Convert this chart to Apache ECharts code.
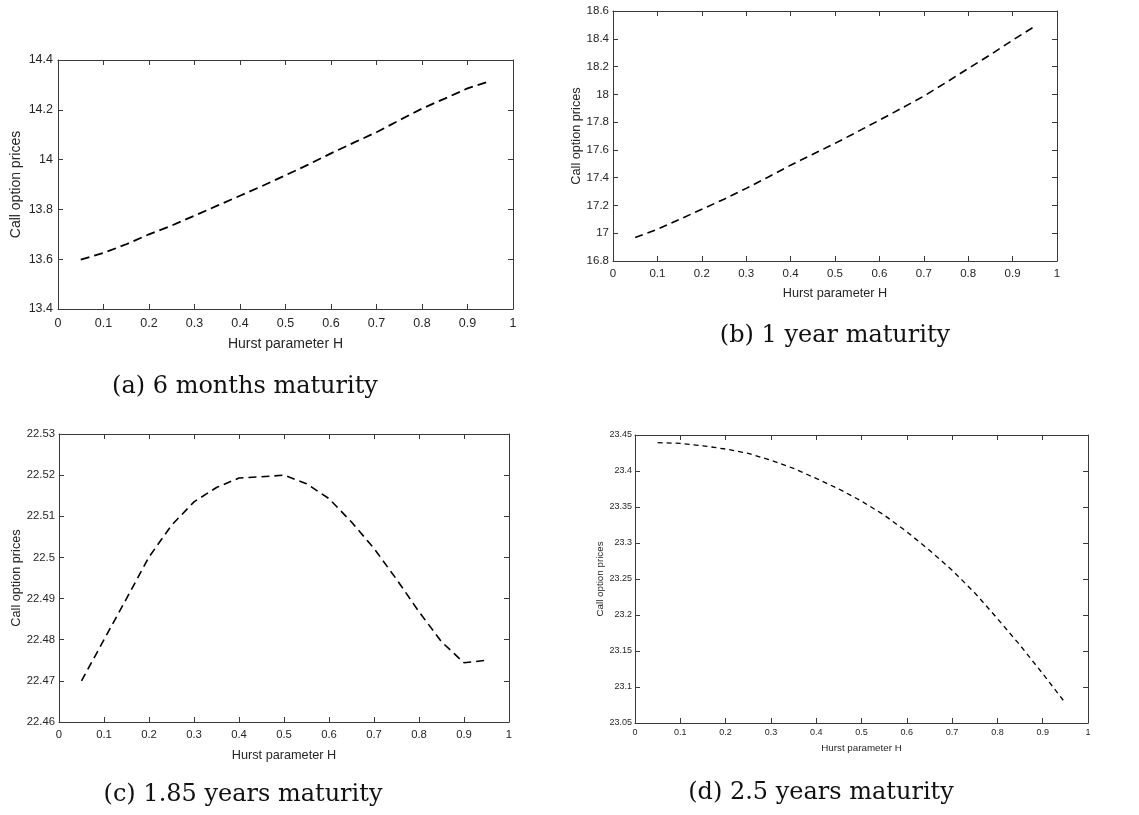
<!DOCTYPE html>
<html>
<head>
<meta charset="utf-8">
<script src="https://cdn.jsdelivr.net/npm/echarts@6/dist/echarts.min.js"></script>
<style>
  html, body { margin: 0; padding: 0; background: #fff; }
  #chart { width: 1139px; height: 815px; }
</style>
</head>
<body>
<div id="chart"></div>
<script>
// Hurst parameter values (x)
var hurst = [0.05, 0.1, 0.15, 0.2, 0.25, 0.3, 0.35, 0.4, 0.45, 0.5,
             0.55, 0.6, 0.65, 0.7, 0.75, 0.8, 0.85, 0.9, 0.95];

// call option prices, one array per maturity
var price6m = [13.598, 13.625, 13.66, 13.70, 13.735, 13.775, 13.815, 13.855, 13.895, 13.937,
               13.98, 14.025, 14.068, 14.11, 14.158, 14.205, 14.245, 14.286, 14.315];
var price1y = [16.97, 17.028, 17.10, 17.172, 17.245, 17.323, 17.405, 17.49, 17.568, 17.647,
               17.73, 17.814, 17.90, 17.987, 18.085, 18.186, 18.285, 18.39, 18.49];
var price185y = [22.470, 22.480, 22.490, 22.5001, 22.5078, 22.5135, 22.517, 22.5193, 22.5196, 22.520,
                 22.5179, 22.5143, 22.5086, 22.5022, 22.4947, 22.4868, 22.4795, 22.4744, 22.475];
var price25y = [23.4393, 23.4384, 23.435, 23.4305, 23.4245, 23.415, 23.4036, 23.3897, 23.375, 23.3582,
                23.3388, 23.3156, 23.290, 23.2623, 23.2308, 23.195, 23.158, 23.1186, 23.0778];

var captions = ['(a) 6 months maturity', '(b) 1 year maturity',
                '(c) 1.85 years maturity', '(d) 2.5 years maturity'];
var xName = 'Hurst parameter H';
var yName = 'Call option prices';

var axisColor = '#3a3a3a';
var labelColor = '#262626';

var panels = [
  { grid: { left: 58, top: 60, width: 455, height: 249 }, data: price6m,
    yMin: 13.4, yMax: 14.4, yInt: 0.2, tick: 12.5, name: 14, xGap: 28, yGap: 35, xMargin: 8, yMargin: 5,
    dash: [9, 5], lw: 1.8, cap: [245, 387] },
  { grid: { left: 613, top: 11, width: 444, height: 250 }, data: price1y,
    yMin: 16.8, yMax: 18.6, yInt: 0.2, tick: 11.5, name: 12.7, xGap: 26, yGap: 29, xMargin: 7, yMargin: 4,
    dash: [8, 5], lw: 1.6, cap: [835, 336] },
  { grid: { left: 59, top: 434, width: 450, height: 288 }, data: price185y,
    yMin: 22.46, yMax: 22.53, yInt: 0.01, tick: 11.3, name: 12.7, xGap: 27, yGap: 36, xMargin: 7, yMargin: 4,
    dash: [8, 5], lw: 1.6, cap: [243, 795] },
  { grid: { left: 635, top: 435, width: 453, height: 288 }, data: price25y,
    yMin: 23.05, yMax: 23.45, yInt: 0.05, tick: 9, name: 9.8, xGap: 20, yGap: 28, xMargin: 5, yMargin: 3,
    dash: [5, 4], lw: 1.3, cap: [821, 793] }
];

function axisLine() {
  return { show: true, onZero: false, lineStyle: { color: axisColor, width: 1 } };
}
function axisTick() {
  return { show: true, inside: true, length: 5, lineStyle: { color: axisColor, width: 1 } };
}

var grids = [], xAxes = [], yAxes = [], series = [], graphics = [];

panels.forEach(function (p, i) {
  grids.push(p.grid);
  // bottom / left axes carry labels
  xAxes.push({
    type: 'value', gridIndex: i, min: 0, max: 1, interval: 0.1, position: 'bottom',
    axisLine: axisLine(), axisTick: axisTick(), splitLine: { show: false },
    axisLabel: { color: labelColor, fontSize: p.tick, fontFamily: 'Liberation Sans', margin: p.xMargin },
    name: xName, nameLocation: 'middle', nameGap: p.xGap,
    nameTextStyle: { color: labelColor, fontSize: p.name, fontFamily: 'Liberation Sans' }
  });
  yAxes.push({
    type: 'value', gridIndex: i, min: p.yMin, max: p.yMax, interval: p.yInt, position: 'left',
    axisLine: axisLine(), axisTick: axisTick(), splitLine: { show: false },
    axisLabel: { color: labelColor, fontSize: p.tick, fontFamily: 'Liberation Sans', margin: p.yMargin },
    name: yName, nameLocation: 'middle', nameGap: p.yGap, nameRotate: 90,
    nameTextStyle: { color: labelColor, fontSize: p.name, fontFamily: 'Liberation Sans' }
  });
  // top / right axes close the box
  xAxes.push({
    type: 'value', gridIndex: i, min: 0, max: 1, interval: 0.1, position: 'top',
    axisLine: axisLine(), axisTick: axisTick(), axisLabel: { show: false }, splitLine: { show: false }
  });
  yAxes.push({
    type: 'value', gridIndex: i, min: p.yMin, max: p.yMax, interval: p.yInt, position: 'right',
    axisLine: axisLine(), axisTick: axisTick(), axisLabel: { show: false }, splitLine: { show: false }
  });
  series.push({
    type: 'line', xAxisIndex: i * 2, yAxisIndex: i * 2, showSymbol: false, symbol: 'none',
    data: hurst.map(function (h, k) { return [h, p.data[k]]; }),
    lineStyle: { color: '#000', width: p.lw, type: p.dash },
    silent: true, animation: false
  });
  graphics.push({
    type: 'text', x: p.cap[0], y: p.cap[1],
    style: { text: captions[i], fill: '#111', font: '24px "DejaVu Serif"',
             align: 'center', verticalAlign: 'middle' }
  });
});

var chart = echarts.init(document.getElementById('chart'));
chart.setOption({
  animation: false,
  grid: grids,
  xAxis: xAxes,
  yAxis: yAxes,
  series: series,
  graphic: graphics
});
</script>
</body>
</html>
